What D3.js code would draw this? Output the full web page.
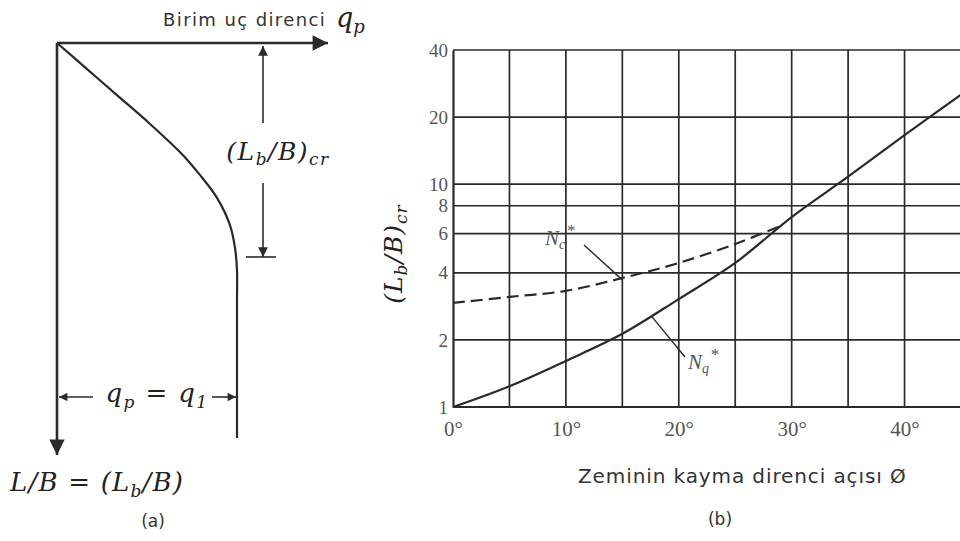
<!DOCTYPE html>
<html><head><meta charset="utf-8">
<script src="https://cdn.jsdelivr.net/npm/d3@7/dist/d3.min.js"></script>
<style>
html,body{margin:0;padding:0;background:#fff;}
svg{display:block;}
.sans{font-family:"DejaVu Sans",Verdana,sans-serif;fill:#333;}
.math{font-family:"DejaVu Serif",serif;font-style:italic;fill:#222;}
.lbl{font-family:"Liberation Serif","Times New Roman",serif;fill:#555;}
</style></head>
<body>
<svg id="c" width="960" height="541"></svg>
<script>
// ---- Data (b): critical embedment ratio vs friction angle ----
const phi      = [0, 5, 10, 15, 20, 25, 30, 35, 40, 45];
const nqValues = [1.0, 1.24, 1.61, 2.13, 3.05, 4.43, 7.12, 10.8, 16.6, 25.2];
const phiNc    = [0, 5, 10, 15, 20, 25, 29];
const ncValues = [2.93, 3.12, 3.32, 3.79, 4.43, 5.39, 6.49];
const yTicks   = [1, 2, 4, 6, 8, 10, 20, 40];
const xTicks   = [0, 10, 20, 30, 40];
const xGrid    = [5, 10, 15, 20, 25, 30, 35, 40];

// ---- Data (a): schematic (normalised q and depth) ----
const schemQ = [0, 0.167, 0.333, 0.517, 0.70, 0.794, 0.889, 0.961, 0.989, 1.0, 1.0, 1.0, 1.0, 1.0];
const schemD = [0, 0.066, 0.132, 0.205, 0.284, 0.334, 0.392, 0.461, 0.519, 0.575, 0.65, 0.75, 0.875, 1.0];

const svg = d3.select("#c");
const ink = "#2a2a2a";

const defs = svg.append("defs");
function marker(id, size){
  defs.append("marker").attr("id", id).attr("viewBox","0 0 10 10")
    .attr("refX",10).attr("refY",5).attr("markerWidth",size).attr("markerHeight",size*0.7)
    .attr("markerUnits","userSpaceOnUse").attr("orient","auto-start-reverse")
    .append("path").attr("d","M0,0 L10,5 L0,10 Z").attr("fill",ink);
}
marker("arrBig", 22);
marker("arrMid", 14);
marker("arrSmall", 12);

// ================= Panel (a) =================
const qa = d3.scaleLinear().domain([0,1]).range([57,237]);
const da = d3.scaleLinear().domain([0,1]).range([43,438]);
const ga = svg.append("g");

ga.append("line").attr("x1",qa(0)).attr("y1",da(0)).attr("x2",328).attr("y2",da(0))
  .attr("stroke",ink).attr("stroke-width",2.6).attr("marker-end","url(#arrBig)");
ga.append("line").attr("x1",qa(0)).attr("y1",da(0)).attr("x2",qa(0)).attr("y2",455)
  .attr("stroke",ink).attr("stroke-width",2.6).attr("marker-end","url(#arrBig)");

const schem = schemQ.map((q,i)=>[qa(q), da(schemD[i])]);
ga.append("path").attr("d", d3.line().curve(d3.curveCatmullRom.alpha(0.5))(schem))
  .attr("fill","none").attr("stroke",ink).attr("stroke-width",2.2);

// dimension (Lb/B)cr
const dimX = 263;
ga.append("line").attr("x1",dimX).attr("y1",123).attr("x2",dimX).attr("y2",da(0)+3)
  .attr("stroke",ink).attr("stroke-width",1.6).attr("marker-end","url(#arrMid)");
ga.append("line").attr("x1",dimX).attr("y1",183).attr("x2",dimX).attr("y2",257)
  .attr("stroke",ink).attr("stroke-width",1.6).attr("marker-end","url(#arrMid)");
ga.append("line").attr("x1",246).attr("y1",257).attr("x2",276).attr("y2",257)
  .attr("stroke",ink).attr("stroke-width",1.6);
const t1 = ga.append("text").attr("class","math").attr("x",278).attr("y",160)
  .attr("text-anchor","middle").attr("font-size",25).attr("letter-spacing",1.5);
t1.append("tspan").text("(L");
t1.append("tspan").attr("font-size",17).attr("dy",5).text("b");
t1.append("tspan").attr("dy",-5).text("/B)");
t1.append("tspan").attr("font-size",17).attr("dy",5).text("cr");

// q_p = q_1 dimension
const dimY = 397;
ga.append("line").attr("x1",93).attr("y1",dimY).attr("x2",qa(0)+2).attr("y2",dimY)
  .attr("stroke",ink).attr("stroke-width",1.6).attr("marker-end","url(#arrSmall)");
ga.append("line").attr("x1",212).attr("y1",dimY).attr("x2",qa(1)-1).attr("y2",dimY)
  .attr("stroke",ink).attr("stroke-width",1.6).attr("marker-end","url(#arrSmall)");
const t2 = ga.append("text").attr("class","math").attr("x",157).attr("y",402)
  .attr("text-anchor","middle").attr("font-size",26).attr("letter-spacing",1.4);
t2.append("tspan").text("q");
t2.append("tspan").attr("font-size",17).attr("dy",6).text("p");
t2.append("tspan").attr("dy",-6).text(" = q");
t2.append("tspan").attr("font-size",17).attr("dy",6).text("1");

// top label
ga.append("text").attr("class","sans").attr("x",163).attr("y",26).attr("font-size",18)
  .attr("letter-spacing",1.4).text("Birim uç direnci");
const t3 = ga.append("text").attr("class","math").attr("x",336).attr("y",27).attr("font-size",27);
t3.append("tspan").text("q");
t3.append("tspan").attr("font-size",18).attr("dy",6).text("p");

// bottom label
const t4 = ga.append("text").attr("class","math").attr("x",10).attr("y",491).attr("font-size",26)
  .attr("letter-spacing",1.2);
t4.append("tspan").text("L/B = (L");
t4.append("tspan").attr("font-size",17).attr("dy",6).text("b");
t4.append("tspan").attr("dy",-6).text("/B)");
ga.append("text").attr("class","sans").attr("x",153).attr("y",527).attr("text-anchor","middle")
  .attr("font-size",17).text("(a)");

// ================= Panel (b) =================
const x = d3.scaleLinear().domain([0,45]).range([453,961]);
const y = d3.scaleLog().domain([1,40]).range([407,50]);
const gb = svg.append("g");

// grid
gb.selectAll("line.h").data(yTicks).join("line").attr("class","h")
  .attr("x1",x(0)).attr("x2",960).attr("y1",d=>y(d)).attr("y2",d=>y(d))
  .attr("stroke",ink).attr("stroke-width",1.7);
gb.selectAll("line.v").data(xGrid).join("line").attr("class","v")
  .attr("x1",d=>x(d)).attr("x2",d=>x(d)).attr("y1",y(40)).attr("y2",y(1))
  .attr("stroke",ink).attr("stroke-width",1.7);

// axes
const ax = gb.append("g").attr("transform",`translate(0,${y(1)})`)
  .call(d3.axisBottom(x).tickValues(xTicks).tickSize(0).tickPadding(14).tickFormat(d=>d+"°"));
ax.select(".domain").attr("stroke",ink).attr("stroke-width",2.2).attr("d",`M${x(0)},0H960`);
ax.selectAll(".tick text").attr("class","lbl").style("font-size","21px").attr("fill","#555");

const ay = gb.append("g").attr("transform",`translate(${x(0)},0)`)
  .call(d3.axisLeft(y).tickValues(yTicks).tickSize(0).tickPadding(5).tickFormat(d3.format("d")));
ay.select(".domain").attr("stroke",ink).attr("stroke-width",2.2);
ay.selectAll(".tick text").attr("class","lbl").style("font-size","19px").attr("fill","#444");

// curves
const lineNq = d3.line().curve(d3.curveCatmullRom.alpha(0.5)).x((d,i)=>x(phi[i])).y(d=>y(d));
gb.append("path").attr("d", lineNq(nqValues)).attr("fill","none")
  .attr("stroke",ink).attr("stroke-width",2.2);
const lineNc = d3.line().curve(d3.curveCatmullRom.alpha(0.5)).x((d,i)=>x(phiNc[i])).y(d=>y(d));
gb.append("path").attr("d", lineNc(ncValues)).attr("fill","none")
  .attr("stroke",ink).attr("stroke-width",2.2).attr("stroke-dasharray","12,6");

// leaders and labels
gb.append("line").attr("x1",584).attr("y1",245).attr("x2",x(15)).attr("y2",y(3.72))
  .attr("stroke",ink).attr("stroke-width",1.4);
const nc = gb.append("text").attr("class","lbl").attr("x",545).attr("y",245)
  .attr("font-size",21).attr("font-style","italic").attr("fill","#555");
nc.append("tspan").text("N");
nc.append("tspan").attr("font-size",14).attr("dy",4).text("c");
nc.append("tspan").attr("font-size",17).attr("dx",1).attr("dy",-13).text("*");

gb.append("line").attr("x1",x(17.6)).attr("y1",y(2.55)).attr("x2",685).attr("y2",357)
  .attr("stroke",ink).attr("stroke-width",1.4);
const nq = gb.append("text").attr("class","lbl").attr("x",688).attr("y",369)
  .attr("font-size",21).attr("font-style","italic").attr("fill","#555");
nq.append("tspan").text("N");
nq.append("tspan").attr("font-size",14).attr("dy",4).text("q");
nq.append("tspan").attr("font-size",17).attr("dx",1).attr("dy",-13).text("*");

// axis titles
const yt = gb.append("text").attr("class","math").attr("font-size",25).attr("letter-spacing",1)
  .attr("transform","translate(402,254) rotate(-90)").attr("text-anchor","middle");
yt.append("tspan").text("(L");
yt.append("tspan").attr("font-size",17).attr("dy",5).text("b");
yt.append("tspan").attr("dy",-5).text("/B)");
yt.append("tspan").attr("font-size",17).attr("dy",5).text("cr");

gb.append("text").attr("class","sans").attr("x",578).attr("y",483).attr("font-size",20)
  .attr("letter-spacing",0.9).text("Zeminin kayma direnci açısı Ø");
gb.append("text").attr("class","sans").attr("x",720).attr("y",525).attr("text-anchor","middle")
  .attr("font-size",17).text("(b)");
</script>
</body></html>
